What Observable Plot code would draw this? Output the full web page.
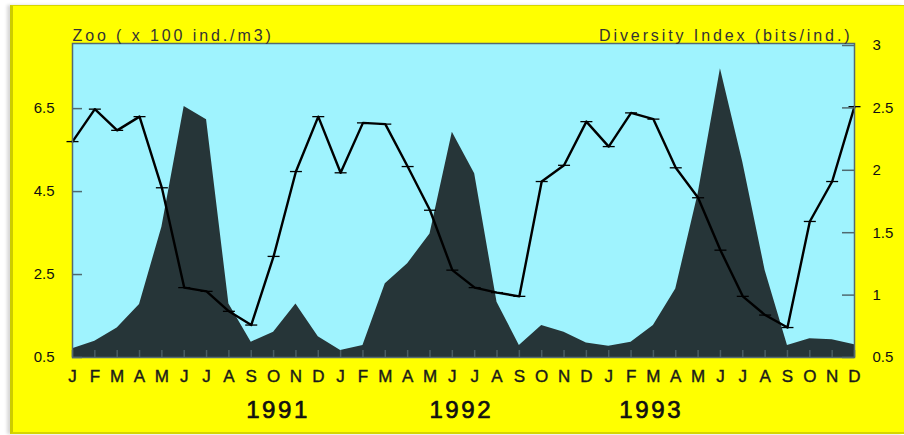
<!DOCTYPE html>
<html>
<head>
<meta charset="utf-8">
<script src="https://cdn.jsdelivr.net/npm/d3@7"></script>
<script src="https://cdn.jsdelivr.net/npm/@observablehq/plot@0.6"></script>
<style>
  html, body { margin: 0; padding: 0; background: #ffffff; }
  #wrap { position: relative; width: 904px; height: 435px; overflow: hidden; }
  #panel { position: absolute; left: 10px; top: 5px; right: 0; bottom: 1px;
           background: #ffff00; border-left: 3px solid #cccc00; border-top: 1px solid #d6d600;
           border-bottom: 2px solid #d6d600; box-shadow: -3px 0 3px #d8d8d8; }
  #chart { position: absolute; left: 0; top: 0; }
  #chart svg { background: transparent !important; overflow: visible; }
</style>
</head>
<body>
<div id="wrap"><div id="panel"></div><div id="chart"></div></div>
<script>
// ---- data ----
const monthLetters = ["J","F","M","A","M","J","J","A","S","O","N","D"];
const years = ["1991", "1992", "1993"];
// Zooplankton abundance (x 100 ind./m3), monthly, Jan 1991 - Dec 1993
const zoo = [0.71, 0.89, 1.21, 1.78, 3.64, 6.55, 6.23, 1.79, 0.87, 1.11, 1.79, 1.0,
             0.67, 0.79, 2.28, 2.76, 3.48, 5.93, 4.93, 1.83, 0.79, 1.27, 1.11, 0.85,
             0.77, 0.87, 1.27, 2.15, 4.44, 7.46, 5.21, 2.60, 0.79, 0.95, 0.93, 0.81];
// Diversity index (bits/ind.)
const diversity = [2.23, 2.49, 2.32, 2.43, 1.86, 1.06, 1.03, 0.87, 0.76, 1.31, 1.99, 2.43,
                   1.98, 2.38, 2.37, 2.03, 1.68, 1.20, 1.06, 1.02, 0.99, 1.91, 2.04, 2.39,
                   2.19, 2.46, 2.41, 2.02, 1.78, 1.36, 0.99, 0.84, 0.74, 1.59, 1.91, 2.51];
const leftTicks = [0.5, 2.5, 4.5, 6.5];
const rightTicks = [0.5, 1, 1.5, 2, 2.5, 3];
const leftTitle = "Zoo ( x 100 ind./m3)";
const rightTitle = "Diversity Index (bits/ind.)";

// ---- layout ----
const W = 904, H = 435, ML = 72, MR = 50, MT = 43, MB = 78;
const frameW = W - ML - MR, frameH = H - MT - MB;
const yearLabelMonth = [9.2, 17.4, 25.9];
const leftDomain = [0.5, 8.07];
const rightDomain = [0.5, 3.016];
const toLeft = d => leftDomain[0] + (d - rightDomain[0]) * (leftDomain[1] - leftDomain[0]) / (rightDomain[1] - rightDomain[0]);
const fromLeft = v => rightDomain[0] + (v - leftDomain[0]) * (rightDomain[1] - rightDomain[0]) / (leftDomain[1] - leftDomain[0]);

const data = zoo.map((z, i) => ({i, zoo: z, div: diversity[i]}));
const monthIdx = d3.range(zoo.length);

const hdash = {
  draw(ctx, size) {
    const r = Math.sqrt(size / Math.PI);
    ctx.moveTo(-r, 0); ctx.lineTo(r, 0);
  }
};

const font = "'Liberation Sans', Arial, Helvetica, sans-serif";
const axisColor = "#4f6a70";

const chart = Plot.plot({
  width: W,
  height: H,
  marginLeft: ML,
  marginRight: MR,
  marginTop: MT,
  marginBottom: MB,
  style: {fontFamily: font, background: "transparent", color: "#1a1a1a"},
  x: {domain: [0, 35], axis: null},
  y: {domain: leftDomain, axis: null},
  marks: [
    Plot.frame({fill: "#9ff3fe", stroke: null}),
    Plot.areaY(data, {x: "i", y1: 0.5, y2: "zoo", fill: "#263538"}),
    Plot.line(data, {x: "i", y: d => toLeft(d.div), stroke: "#000", strokeWidth: 2.4}),
    Plot.dot(data, {x: "i", y: d => toLeft(d.div), symbol: hdash, r: 6, stroke: "#000", strokeWidth: 1.3}),
    // bottom ticks (inward)
    Plot.ruleX(monthIdx, {insetTop: frameH - 7, stroke: "#4a5d62", strokeWidth: 1.5}),
    // month letters
    Plot.axisX(monthIdx, {anchor: "bottom", tickSize: 0, tickPadding: 12, tickFormat: i => monthLetters[i % 12],
                          fontSize: 17, fill: "#1a1a1a", label: null}),
    // left ticks inward + labels
    Plot.ruleY(leftTicks, {insetRight: frameW - 10, stroke: axisColor, strokeWidth: 1.5}),
    Plot.axisY(leftTicks, {anchor: "left", tickSize: 0, tickPadding: 18, tickFormat: d => d.toFixed(1),
                           fontSize: 15, fill: "#111", label: null}),
    // right ticks inward + labels
    Plot.ruleY(rightTicks.map(toLeft), {insetLeft: frameW - 12, stroke: axisColor, strokeWidth: 1.5}),
    Plot.axisY(rightTicks.map(toLeft), {anchor: "right", tickSize: 0, tickPadding: 18,
                           tickFormat: v => d3.format("~g")(Math.round(fromLeft(v) * 100) / 100),
                           fontSize: 15, fill: "#111", label: null}),
    Plot.frame({stroke: "#556a70", strokeWidth: 1.5}),
    // titles
    Plot.text([leftTitle], {frameAnchor: "top-left", textAnchor: "start", dy: -14, fontSize: 16, fill: "#333"}),
    Plot.text([rightTitle], {frameAnchor: "top-right", textAnchor: "end", dy: -14, dx: -2, fontSize: 16, fill: "#333"}),
    // years
    Plot.text(years, {x: (d, i) => yearLabelMonth[i], frameAnchor: "bottom", dy: 60, fontSize: 24,
                      fill: "#111", stroke: "#111", strokeWidth: 0.7})
  ]
});

d3.select(chart).selectAll("text")
  .filter(function() { const t = this.textContent; return t === leftTitle || t === rightTitle; })
  .style("letter-spacing", "2.9px");
d3.select(chart).selectAll("text")
  .filter(function() { return years.includes(this.textContent); })
  .style("letter-spacing", "2.6px");
d3.select(chart).selectAll("text")
  .filter(function() { return monthLetters.includes(this.textContent); })
  .style("stroke", "#1a1a1a").style("stroke-width", "0.4px");
document.getElementById("chart").appendChild(chart);
</script>
</body>
</html>
